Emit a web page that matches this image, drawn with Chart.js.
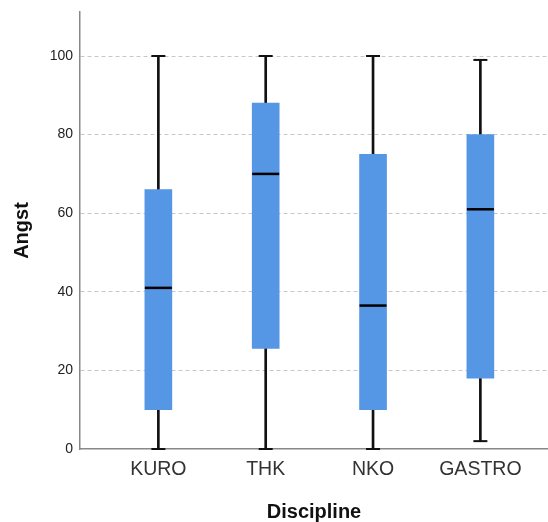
<!DOCTYPE html>
<html>
<head>
<meta charset="utf-8">
<script src="https://cdn.jsdelivr.net/npm/chart.js@4"></script>
<style>
  html, body { margin: 0; padding: 0; background: #fff; }
  #wrap { width: 548px; height: 522px; }
</style>
</head>
<body>
<div id="wrap"><canvas id="chart" width="548" height="522"></canvas></div>
<script>
// box plot values per discipline
const categories = ['KURO', 'THK', 'NKO', 'GASTRO'];
const minVals    = [0, 0, 0, 2];
const q1Vals     = [10, 25.6, 10, 18];
const medianVals = [41, 70, 36.5, 61];
const q3Vals     = [66, 88, 75, 80];
const maxVals    = [100, 100, 100, 99];
const yTicks     = [0, 20, 40, 60, 80, 100];

const boxColor = '#5596e5';
const lineColor = '#111';
const font = 'Arial, "Liberation Sans", sans-serif';

const pos = categories.map((c, i) => i + 1);

const whiskers = pos.map((x, i) => ({ x, y: [minVals[i], maxVals[i]] }));
const boxes    = pos.map((x, i) => ({ x, y: [q1Vals[i], q3Vals[i]] }));
const medians  = pos.map((x, i) => ({ x, y: medianVals[i] }));
const caps     = pos.flatMap((x, i) => [{ x, y: minVals[i] }, { x, y: maxVals[i] }]);

new Chart(document.getElementById('chart').getContext('2d'), {
  type: 'bar',
  data: {
    datasets: [
      { type: 'bar', data: whiskers, backgroundColor: lineColor, barThickness: 2, grouped: false, order: 3 },
      { type: 'bar', data: boxes, backgroundColor: boxColor, barThickness: 27, grouped: false, order: 2 },
      { type: 'scatter', data: medians, pointStyle: 'line', radius: 13.5, borderWidth: 2.5,
        borderColor: '#000', order: 1, clip: false },
      { type: 'scatter', data: caps, pointStyle: 'line', radius: 7, borderWidth: 2,
        borderColor: lineColor, order: 1, clip: false }
    ]
  },
  options: {
    responsive: false,
    animation: false,
    layout: { autoPadding: false, padding: { top: 12, right: 0, left: 0, bottom: 0 } },
    plugins: { legend: { display: false }, tooltip: { enabled: false } },
    scales: {
      x: {
        type: 'linear',
        offset: false,
        min: 0.27,
        max: 4.63,
        afterBuildTicks: s => { s.ticks = pos.map(v => ({ value: v })); },
        afterFit: s => { s.height = 73; s.paddingLeft = 0; s.paddingRight = 0; },
        grid: { display: false, drawTicks: false },
        border: { color: '#888', width: 1.5 },
        ticks: {
          padding: 9,
          color: '#333',
          font: { family: font, size: 19.5 },
          callback: v => categories[v - 1]
        },
        title: {
          display: true, text: 'Discipline', color: '#111',
          font: { family: font, size: 20, weight: 'bold', lineHeight: 1 },
          padding: { top: 0, bottom: 0 }
        }
      },
      y: {
        min: 0,
        max: 111.2,
        afterBuildTicks: s => { s.ticks = yTicks.map(v => ({ value: v })); },
        afterFit: s => { s.width = 80; s.paddingTop = 0; s.paddingBottom = 0; },
        grid: {
          drawTicks: false,
          color: ctx => ctx.tick && ctx.tick.value === 0 ? 'rgba(0,0,0,0)' : '#c8c8c8',
          lineWidth: 1
        },
        border: { color: '#888', width: 1.5, dash: [4, 3], dashOffset: 0 },
        ticks: {
          padding: 7,
          color: '#222',
          font: { family: font, size: 14 }
        },
        title: {
          display: true, text: 'Angst', color: '#111',
          font: { family: font, size: 20, weight: 'bold', lineHeight: 1 },
          padding: { top: 12, bottom: 0 }
        }
      }
    }
  }
});
</script>
</body>
</html>
